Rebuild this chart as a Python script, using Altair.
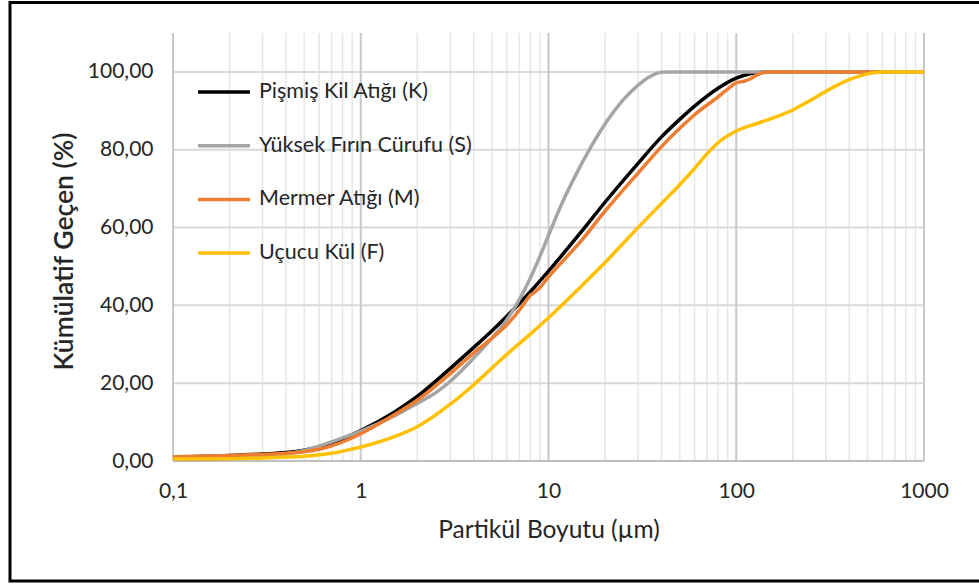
import altair as alt
import pandas as pd

# Cumulative passing (%) vs particle size (µm), log-scaled x axis
series_names = ["Pişmiş Kil Atığı (K)", "Yüksek Fırın Cürufu (S)", "Mermer Atığı (M)", "Uçucu Kül (F)"]
series_colors = ["#000000", "#A5A5A5", "#ED7D31", "#FFC000"]

k_size = [0.1, 0.2, 0.3, 0.4, 0.5, 0.6, 0.7, 0.85, 1, 1.5, 2, 3, 4, 5, 6, 8, 10, 15, 20, 30, 40, 50, 60, 80, 100, 120, 140, 1000]
k_pass = [1.0, 1.4, 1.8, 2.2, 2.8, 3.6, 4.6, 6.2, 7.8, 12.5, 16.6, 23.8, 29.2, 33.5, 37.2, 43.5, 48.8, 59.0, 66.5, 76.5, 83.3, 87.8, 91.2, 95.8, 98.4, 99.6, 100.0, 100.0]

s_size = [0.1, 0.2, 0.3, 0.4, 0.5, 0.6, 0.7, 0.85, 1, 1.5, 2, 2.5, 3, 4, 5, 6, 6.9, 8, 9, 10, 12, 14, 16.6, 20, 25, 30, 35, 40, 45, 1000]
s_pass = [0.3, 0.6, 1.1, 1.8, 2.7, 3.8, 4.9, 6.4, 7.7, 11.5, 14.8, 17.5, 20.5, 26.5, 31.6, 36.3, 41.0, 47.0, 52.6, 58.0, 67.0, 73.6, 80.2, 86.6, 92.8, 96.6, 98.9, 99.9, 100.0, 100.0]

m_size = [0.1, 0.2, 0.3, 0.4, 0.5, 0.6, 0.7, 0.85, 1, 1.5, 2, 3, 4, 5, 6, 7, 7.5, 8, 8.5, 9, 10, 15, 20, 30, 40, 50, 60, 80, 90, 100, 110, 120, 130, 150, 1000]
m_pass = [1.1, 1.4, 1.7, 2.0, 2.4, 3.0, 3.9, 5.4, 7.0, 11.8, 15.6, 22.5, 27.8, 31.6, 35.0, 38.8, 40.8, 42.6, 43.5, 44.6, 47.3, 56.7, 64.2, 74.0, 80.8, 85.5, 89.0, 93.6, 95.6, 97.2, 97.6, 98.3, 99.3, 100.0, 100.0]

f_size = [0.1, 0.2, 0.3, 0.4, 0.5, 0.6, 0.7, 0.85, 1, 1.5, 2, 3, 4, 5, 6, 8, 10, 15, 20, 30, 40, 50, 60, 70, 80, 100, 130, 160, 200, 250, 300, 400, 500, 600, 1000]
f_pass = [0.5, 0.6, 0.8, 1.0, 1.2, 1.6, 2.0, 2.8, 3.6, 6.2, 8.8, 14.6, 19.6, 23.9, 27.4, 32.6, 36.8, 45.0, 51.0, 60.0, 66.2, 71.0, 75.2, 79.0, 81.8, 84.8, 86.8, 88.3, 90.2, 92.8, 95.0, 98.0, 99.5, 100.0, 100.0]

major_x = [0.1, 1, 10, 100, 1000]
minor_x = [0.2, 0.3, 0.4, 0.5, 0.6, 0.7, 0.8, 0.9,
           2, 3, 4, 5, 6, 7, 8, 9,
           20, 30, 40, 50, 60, 70, 80, 90,
           200, 300, 400, 500, 600, 700, 800, 900]
y_ticks = [0, 20, 40, 60, 80, 100]

rows = []
for name, xs, ys in zip(series_names,
                        [k_size, s_size, m_size, f_size],
                        [k_pass, s_pass, m_pass, f_pass]):
    for x, y in zip(xs, ys):
        rows.append({"seri": name, "boyut": x, "gecen": y})
df = pd.DataFrame(rows)

FONT = "Lato"
TEXT = "#262626"
W, H = 751, 428
X_TITLE = "Partikül Boyutu (µm)"
Y_TITLE = "Kümülatif Geçen (%)"

x_scale = alt.Scale(type="log", domain=[0.1, 1000], nice=False)
y_scale = alt.Scale(domain=[0, 110], nice=False)

x_axis = alt.Axis(values=major_x, labelExpr="replace(format(datum.value, '~g'), '.', ',')",
                  domain=False, ticks=False, grid=False, labelFlush=False, labelOverlap=False,
                  labelFont=FONT, labelFontSize=21, labelColor=TEXT, labelPadding=19,
                  titleFont=FONT, titleFontSize=24.5, titleFontWeight="normal",
                  titleColor=TEXT, titlePadding=17)
y_axis = alt.Axis(values=y_ticks, labelExpr="replace(format(datum.value, '.2f'), '.', ',')",
                  domain=False, ticks=False, grid=False, labelOverlap=False,
                  labelFont=FONT, labelFontSize=21, labelColor=TEXT, labelPadding=20,
                  titleFont=FONT, titleFontSize=26.5, titleFontWeight=600,
                  titleColor=TEXT, titlePadding=9, titleY=218)

# vertical rules with only an x channel span the full plot height
minor_grid = alt.Chart(pd.DataFrame({"x": minor_x})).mark_rule(
    color="#E6E6E6", strokeWidth=1.5
).encode(x=alt.X("x:Q", scale=x_scale, axis=x_axis, title=X_TITLE))

major_grid = alt.Chart(pd.DataFrame({"x": major_x})).mark_rule(
    color="#C8C8C8", strokeWidth=2
).encode(x=alt.X("x:Q", scale=x_scale, axis=x_axis, title=X_TITLE))

# horizontal rules with only a y channel span the full plot width
h_grid = alt.Chart(pd.DataFrame({"y": y_ticks[1:]})).mark_rule(
    color="#D9D9D9", strokeWidth=2
).encode(y=alt.Y("y:Q", scale=y_scale, axis=y_axis, title=Y_TITLE))

base_axis = alt.Chart(pd.DataFrame({"y": [0]})).mark_rule(
    color="#BFBFBF", strokeWidth=2
).encode(y=alt.Y("y:Q", scale=y_scale, axis=y_axis, title=Y_TITLE))

color = alt.Color(
    "seri:N",
    scale=alt.Scale(domain=series_names, range=series_colors),
    legend=alt.Legend(
        title=None, orient="none", legendX=23, legendY=31,
        symbolType="stroke", symbolSize=2700, symbolStrokeWidth=3.5,
        labelFont=FONT, labelFontSize=21.5, labelColor=TEXT, labelLimit=0,
        labelOffset=7, rowPadding=14.7,
    ),
)

lines = alt.Chart(df).mark_line(
    strokeWidth=3.5, interpolate="monotone"
).encode(
    x=alt.X("boyut:Q", scale=x_scale, axis=x_axis, title=X_TITLE),
    y=alt.Y("gecen:Q", scale=y_scale, axis=y_axis, title=Y_TITLE),
    color=color,
)

# outer picture border
frame = alt.Chart(pd.DataFrame({"a": [0]})).mark_rect(
    fill=None, stroke="#000000", strokeWidth=3, clip=False
).encode(
    x=alt.value(-163), x2=alt.value(808),
    y=alt.value(-30.5), y2=alt.value(548),
)

chart = alt.layer(
    minor_grid, h_grid, major_grid, base_axis, lines, frame
).properties(
    width=W, height=H,
    autosize=alt.AutoSizeParams(type="none"),
    padding={"left": 173, "top": 33, "right": 55, "bottom": 124},
    background="#FFFFFF",
).configure_view(stroke=None)

chart.save("out.html", embed_options={"renderer": "svg", "actions": False})
